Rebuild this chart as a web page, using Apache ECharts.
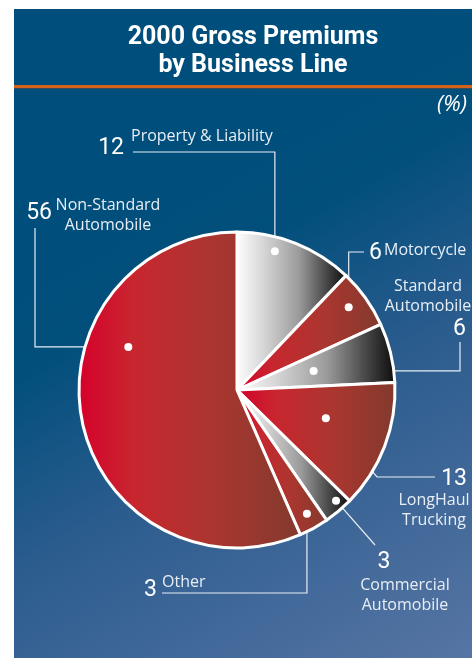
<!DOCTYPE html>
<html>
<head>
<meta charset="utf-8">
<script src="https://cdn.jsdelivr.net/npm/echarts@6/dist/echarts.min.js"></script>
<style>
  html, body { margin: 0; padding: 0; background: #fff; }
  #main { width: 472px; height: 658px; }
</style>
</head>
<body>
<div id="main"></div>
<script>
// data
const categories = ['Property & Liability', 'Motorcycle', 'Standard\nAutomobile', 'LongHaul\nTrucking', 'Commercial\nAutomobile', 'Other', 'Non-Standard\nAutomobile']
const values = [12, 6, 6, 13, 3, 3, 56]
const titleText = '2000 Gross Premiums\nby Business Line'
const unitText = '(%)'

// looks
const kinds = ['grey', 'red', 'grey', 'red', 'grey', 'red', 'red']
const center = [237, 390]
const R = 158
// anchor dot [radius fraction, position in value units], bends, name / number label spots
const layout = [
  { dot: [0.91, 4.2], bends: [[null, 152], [133, null]], name: [131, 136, 'left'], num: [124, 148, 'right'] },
  { dot: [0.88, 14.7], bends: [[null, 252], [364, null]], name: [384, 250, 'left'], num: [369, 253, 'left'] },
  { dot: [0.5, 20.9], bends: [[460, null], [null, 342]], name: [428, 296, 'center'], num: [466, 329, 'right'] },
  { dot: [0.59, 29.6], bends: [[377, 477], [435, null]], name: [434, 510, 'center'], num: [467, 479, 'right'] },
  { dot: [0.94, 38.0], bends: [[375, 545]], name: [405, 595, 'center'], num: [384, 562, 'center'] },
  { dot: [0.9, 41.4], bends: [[null, 593], [162, null]], name: [162, 582, 'left'], num: [157, 590, 'right'] },
  { dot: [0.74, 80.2], bends: [[35, null], [null, 228]], name: [108, 215, 'center'], num: [52, 213, 'right'] }
]

const total = values.reduce((a, b) => a + b, 0)

const fills = {
  red: {
    type: 'linear', x: 0, y: 0, x2: 1, y2: 0,
    colorStops: [
      { offset: 0, color: '#d6002b' },
      { offset: 0.25, color: '#c8262f' },
      { offset: 0.6, color: '#ab362f' },
      { offset: 1, color: '#823a2e' }
    ]
  },
  grey: {
    type: 'linear', x: 0, y: 0, x2: 1, y2: 0,
    colorStops: [
      { offset: 0, color: '#ffffff' },
      { offset: 0.25, color: '#d6d6d6' },
      { offset: 0.57, color: '#9a9a9a' },
      { offset: 0.85, color: '#3a3a3a' },
      { offset: 1, color: '#0a0a0a' }
    ]
  }
}

function dotPixel(i) {
  const [f, v] = layout[i].dot
  const a = v / total * Math.PI * 2
  return [center[0] + f * R * Math.sin(a), center[1] - f * R * Math.cos(a)]
}

function linePoints(i) {
  const pts = [dotPixel(i)]
  layout[i].bends.forEach(([bx, by]) => {
    const last = pts[pts.length - 1]
    pts.push([bx == null ? last[0] : bx, by == null ? last[1] : by])
  })
  return pts
}

const pieData = categories.map((name, i) => ({
  name,
  value: values[i],
  itemStyle: { color: fills[kinds[i]] }
}))

const option = {
  backgroundColor: '#fff',
  animation: false,
  title: {
    text: titleText,
    left: 248,
    top: 19,
    textAlign: 'center',
    textStyle: {
      color: '#fff',
      fontFamily: 'Roboto',
      fontWeight: 'bold',
      fontSize: 25,
      lineHeight: 28
    }
  },
  graphic: {
    elements: [
      {
        type: 'rect',
        z: -10,
        shape: { x: 14, y: 9, width: 458, height: 649 },
        style: {
          fill: {
            type: 'linear', global: true, x: 150, y: 150, x2: 446, y2: 671,
            colorStops: [
              { offset: 0, color: '#004e7b' },
              { offset: 0.22, color: '#024f7c' },
              { offset: 0.5, color: '#2b5c8e' },
              { offset: 1, color: '#5675a4' }
            ]
          }
        }
      },
      { type: 'rect', z: -9, shape: { x: 14, y: 85, width: 458, height: 3 }, style: { fill: '#d3621b' } },
      { type: 'rect', z: -9, shape: { x: 14, y: 88, width: 458, height: 1 }, style: { fill: '#3d4b57' } },
      {
        type: 'text',
        z: -8,
        x: 467,
        y: 105,
        style: {
          text: unitText,
          fill: '#fff',
          font: 'italic 22px Open Sans',
          textAlign: 'right',
          textVerticalAlign: 'middle'
        }
      }
    ]
  },
  polar: { center, radius: R },
  angleAxis: { type: 'value', min: 0, max: total, startAngle: 90, clockwise: true, show: false },
  radiusAxis: { type: 'value', min: 0, max: 1, show: false },
  series: [
    {
      type: 'pie',
      center,
      radius: R,
      startAngle: 90,
      clockwise: true,
      avoidLabelOverlap: false,
      silent: true,
      data: pieData,
      itemStyle: { borderColor: '#fff', borderWidth: 3 },
      label: {
        show: true,
        formatter: '{b}',
        color: '#e8eef5',
        fontFamily: 'Open Sans',
        fontSize: 16,
        lineHeight: 20
      },
      labelLine: {
        show: true,
        lineStyle: { color: '#e8eef5', width: 1.2 }
      },
      labelLayout: (params) => {
        const l = layout[params.dataIndex]
        return {
          x: l.name[0],
          y: l.name[1],
          align: l.name[2],
          verticalAlign: 'middle',
          labelLinePoints: linePoints(params.dataIndex)
        }
      }
    },
    {
      type: 'pie',
      center,
      radius: R,
      startAngle: 90,
      clockwise: true,
      avoidLabelOverlap: false,
      silent: true,
      data: categories.map((name, i) => ({ name, value: values[i] })),
      itemStyle: { color: 'rgba(0,0,0,0)', borderWidth: 0 },
      label: {
        show: true,
        formatter: '{c}',
        color: '#fff',
        fontFamily: 'Roboto',
        fontWeight: 400,
        fontSize: 23
      },
      labelLine: { show: false },
      labelLayout: (params) => {
        const l = layout[params.dataIndex]
        return { x: l.num[0], y: l.num[1], align: l.num[2], verticalAlign: 'middle' }
      }
    },
    {
      type: 'scatter',
      coordinateSystem: 'polar',
      silent: true,
      z: 5,
      symbolSize: 8,
      itemStyle: { color: '#fff', opacity: 1 },
      data: layout.map((l) => l.dot)
    }
  ]
}

const myChart = echarts.init(document.getElementById('main'))
myChart.setOption(option)
window.addEventListener('resize', () => {
  myChart.resize()
})
</script>
</body>
</html>
